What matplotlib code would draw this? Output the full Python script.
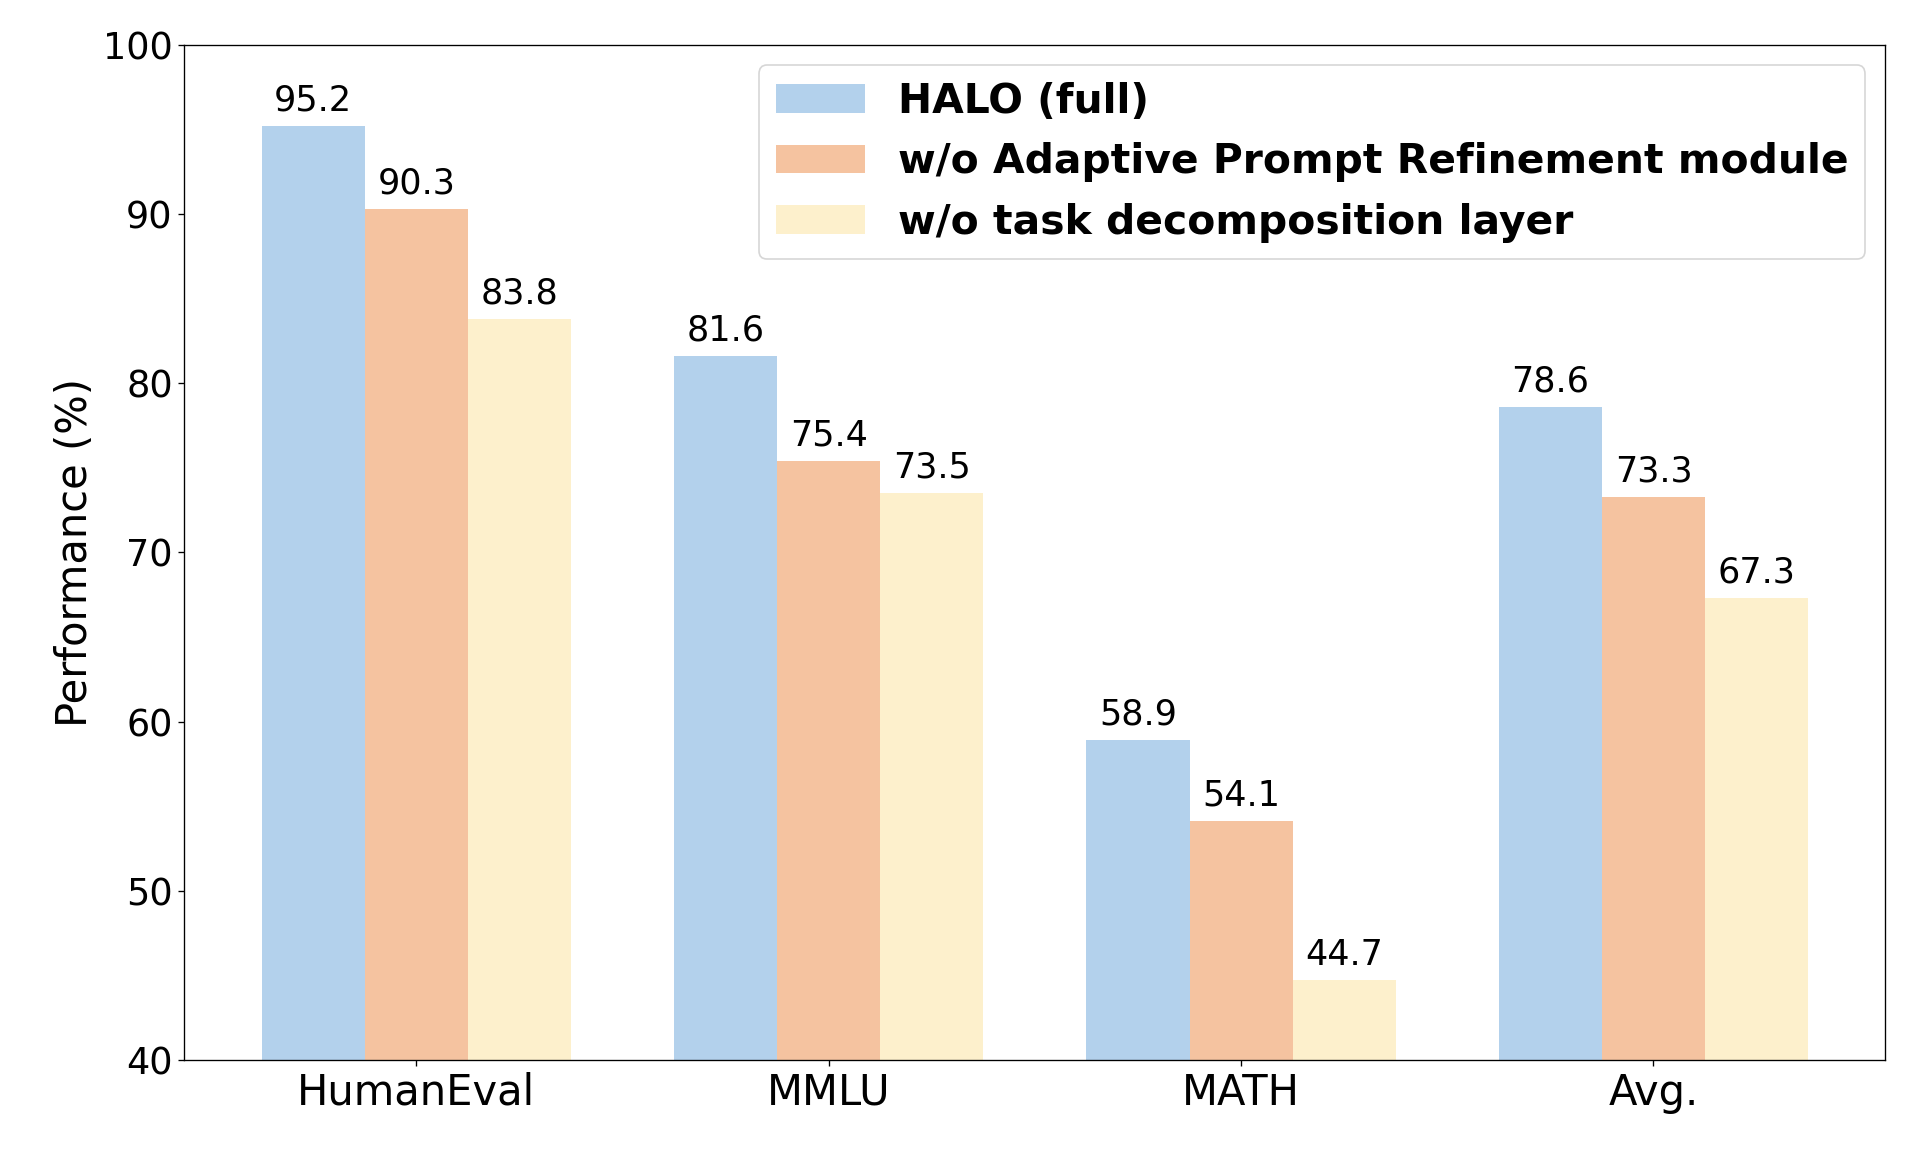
import numpy as np
import matplotlib
matplotlib.use("Agg")
from matplotlib import pyplot as plt

categories = ["HumanEval", "MMLU", "MATH", "Avg."]
series_names = ["HALO (full)", "w/o Adaptive Prompt Refinement module", "w/o task decomposition layer"]
halo_full = [95.2, 81.6, 58.9, 78.6]
wo_apr = [90.3, 75.4, 54.1, 73.3]
wo_tdl = [83.8, 73.5, 44.7, 67.3]
colors = ["#b3d1ec", "#f5c3a0", "#fdf0cc"]

fig = plt.figure(figsize=(16, 9.6), dpi=120)
ax = fig.add_axes([0.096, 0.080, 0.886, 0.881])

x = np.arange(len(categories))
w = 0.25
for i, (vals, name) in enumerate(zip([halo_full, wo_apr, wo_tdl], series_names)):
    bars = ax.bar(x + (i - 1) * w, vals, w, color=colors[i], label=name)
    for b, v in zip(bars, vals):
        ax.text(b.get_x() + b.get_width() / 2, v + 0.5, f"{v}", ha="center", va="bottom", fontsize=21)

ax.set_ylim(40, 100)
ax.set_xticks(x)
ax.set_xticklabels(categories, fontsize=25)
ax.tick_params(axis="y", labelsize=22)
ax.set_ylabel("Performance (%)", fontsize=25)
ax.legend(loc="upper right", prop={"size": 24.5, "weight": "bold"}, handlelength=2.2)
fig.savefig("out.png")
